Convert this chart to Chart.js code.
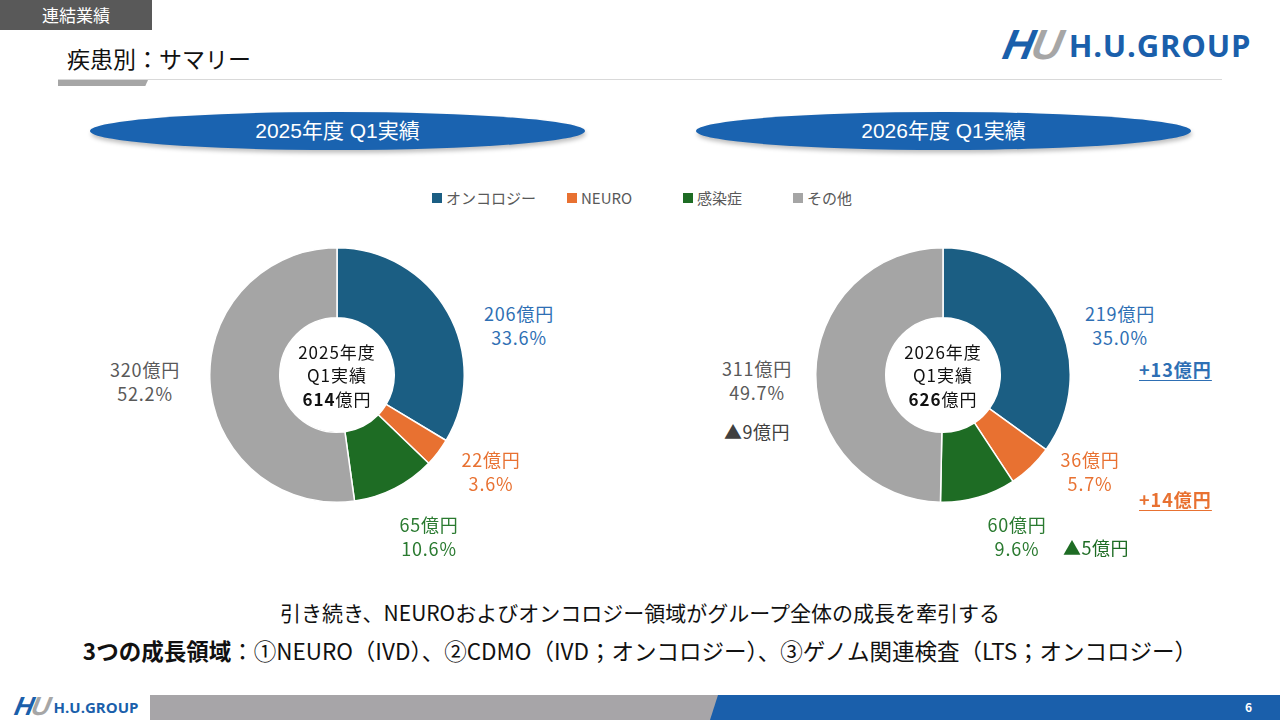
<!DOCTYPE html>
<html lang="ja">
<head>
<meta charset="UTF-8">
<title>疾患別：サマリー</title>
<script src="https://cdn.jsdelivr.net/npm/chart.js"></script>
<style>
    html, body { margin: 0; padding: 0; }
    body {
        width: 1280px; height: 720px; position: relative; overflow: hidden;
        background: #fff; font-family: "Noto Sans CJK JP", "Noto Sans", sans-serif; color: #404040;
    }
    .abs { position: absolute; }
    .tab { left: 0; top: 0; width: 152px; height: 30px; background: #595959; color: #fff;
           font-size: 17px; line-height: 30px; text-align: center; }
    .title { left: 67px; top: 43px; font-size: 23px; color: #111; line-height: 30px; }
    .rule { left: 58px; top: 79px; width: 1164px; height: 1px; background: #d9d9d9; }
    .rule2 { left: 58px; top: 80px; width: 90px; height: 6px; background: #a6a6a6;
             clip-path: polygon(0 0, 100% 0, 97% 100%, 0 100%); }
    .logo { display: flex; align-items: center; }
    .logo .mark { font-family: "Liberation Sans", Arial, sans-serif; font-weight: bold; font-style: italic;
                  letter-spacing: -2px; transform: skewX(-12deg); }
    .logo .mark .h { color: #1a5fab; }
    .logo .mark .u { color: #a6a6a6; }
    .logo .word { font-family: "Open Sans", "Liberation Sans", sans-serif; font-weight: bold; color: #1a5fab; }
    .pill { width: 495px; height: 38px; border-radius: 50%; background: #1a63b0; color: #fff;
            font-family: "Liberation Sans", Arial, "Noto Sans CJK JP", sans-serif; font-size: 21px;
            line-height: 38px; text-align: center; box-shadow: 1px 3px 4px rgba(0,0,0,0.25); }
    .legend { top: 189px; font-size: 15px; color: #595959; display: flex; align-items: center; line-height: 18px; }
    .legend i { display: inline-block; width: 10px; height: 10px; margin-right: 4px; }
    .chartbox { width: 256px; height: 256px; }
    .lbl { font-size: 18px; letter-spacing: 0.8px; line-height: 24px; text-align: center; white-space: nowrap;
           transform: translate(-50%, -12px); }
    .center { font-size: 17px; letter-spacing: 1px; line-height: 24px; text-align: center; color: #111;
              transform: translate(-50%, -12px); white-space: nowrap; }
    .delta { font-size: 18px; letter-spacing: 1px; font-weight: bold; text-decoration: underline;
             text-underline-offset: 3px; white-space: nowrap; transform: translateY(-12px); }
    .tri { font-size: 18px; letter-spacing: 0.5px; white-space: nowrap; transform: translateY(-12px); }
    .msg { left: 0; width: 1280px; text-align: center; color: #111; white-space: nowrap; }
    .footgray { left: 150px; top: 695px; width: 570px; height: 25px; background: #a7a5a8;
                clip-path: polygon(0 0, 100% 0, 98.6% 100%, 0 100%); }
    .footblue { left: 710px; top: 695px; width: 570px; height: 25px; background: #1a5fab;
                clip-path: polygon(8px 0, 100% 0, 100% 100%, 0 100%); }
    .page { left: 1245px; top: 698px; color: #fff; font-size: 12px; font-weight: bold; }
</style>
</head>
<body>

<div class="abs tab">連結業績</div>
<div class="abs title">疾患別：サマリー</div>
<div class="abs rule"></div>
<div class="abs rule2"></div>
<div class="abs logo" style="left:1004px; top:21px;">
    <span class="mark" style="font-size:42px;"><span class="h">H</span><span class="u">U</span></span>
    <span class="word" style="font-size:31px; margin-left:8px; letter-spacing:0.8px;">H.U.GROUP</span>
</div>

<div class="abs pill" style="left:90px; top:112px;" id="pill0"></div>
<div class="abs pill" style="left:696px; top:112px;" id="pill1"></div>

<div id="legend"></div>

<div class="abs chartbox" style="left:209px; top:247px;"><canvas id="chart0"></canvas></div>
<div class="abs chartbox" style="left:815px; top:247px;"><canvas id="chart1"></canvas></div>

<div id="labels"></div>

<div class="abs msg" style="top:597px; font-size:21px;" id="msg1"></div>
<div class="abs msg" style="top:634px; font-size:22.5px;" id="msg2"></div>

<div class="abs logo" style="left:15px; top:691px;">
    <span class="mark" style="font-size:26px;"><span class="h">H</span><span class="u">U</span></span>
    <span class="word" style="font-size:15px; margin-left:5px;">H.U.GROUP</span>
</div>
<div class="abs footgray"></div>
<div class="abs footblue"></div>
<div class="abs page">6</div>

<script>
    // categories and colours
    const categories = ['オンコロジー', 'NEURO', '感染症', 'その他'];
    const sliceColors = ['#1b5e83', '#e87131', '#1e6c24', '#a5a5a5'];
    const labelColors = ['#2e6fb4', '#e87131', '#2a7a30', '#595959'];

    // values (億円)
    const periods = ['2025年度 Q1実績', '2026年度 Q1実績'];
    const values2025 = [206, 22, 65, 320];
    const values2026 = [219, 36, 60, 311];
    const shares2025 = ['33.6%', '3.6%', '10.6%', '52.2%'];
    const shares2026 = ['35.0%', '5.7%', '9.6%', '49.7%'];
    const totals = [614, 626];
    const changes = ['+13億円', '+14億円', '▲5億円', '▲9億円'];

    const legendX = [432, 567, 683, 793];

    // label anchor points (center x, center y of first line)
    const labelPos = [
        [[519, 313], [491, 459], [429, 524], [145, 369]],
        [[1120, 313], [1090, 459], [1017, 524], [757, 368]]
    ];
    const changePos = [[1139, 368], [1139, 498], [1063, 546], [724, 430]];
    const centerX = [337, 943];
    const centerLineY = [352, 375, 399];

    document.getElementById('pill0').textContent = periods[0];
    document.getElementById('pill1').textContent = periods[1];

    // legend
    const legend = document.getElementById('legend');
    categories.forEach((c, i) => {
        const d = document.createElement('div');
        d.className = 'abs legend';
        d.style.left = legendX[i] + 'px';
        d.innerHTML = `<i style="background:${sliceColors[i]}"></i>${c}`;
        legend.appendChild(d);
    });

    // charts
    const allValues = [values2025, values2026];
    const allShares = [shares2025, shares2026];
    allValues.forEach((vals, k) => {
        new Chart(document.getElementById('chart' + k), {
            type: 'doughnut',
            data: {
                labels: categories,
                datasets: [{
                    data: vals,
                    backgroundColor: sliceColors,
                    borderColor: '#ffffff',
                    borderWidth: 1.5
                }]
            },
            options: {
                responsive: true,
                maintainAspectRatio: false,
                animation: false,
                cutout: '45%',
                layout: { padding: 0 },
                plugins: {
                    legend: { display: false },
                    tooltip: { enabled: false }
                }
            }
        });
    });

    // data labels
    const labels = document.getElementById('labels');
    allValues.forEach((vals, k) => {
        vals.forEach((v, i) => {
            const d = document.createElement('div');
            d.className = 'abs lbl';
            d.style.left = labelPos[k][i][0] + 'px';
            d.style.top = labelPos[k][i][1] + 'px';
            d.style.color = labelColors[i];
            d.innerHTML = `${v}億円<br>${allShares[k][i]}`;
            labels.appendChild(d);
        });
        const p = periods[k].split(' ');
        const lines = [p[0], p[1], `<b>${totals[k]}</b>億円`];
        lines.forEach((t, j) => {
            const c = document.createElement('div');
            c.className = 'abs center';
            c.style.left = centerX[k] + 'px';
            c.style.top = centerLineY[j] + 'px';
            c.innerHTML = t;
            labels.appendChild(c);
        });
    });
    changes.forEach((t, i) => {
        const d = document.createElement('div');
        d.className = 'abs ' + (i < 2 ? 'delta' : 'tri');
        d.style.left = changePos[i][0] + 'px';
        d.style.top = changePos[i][1] + 'px';
        d.style.color = i === 3 ? '#404040' : (i === 2 ? '#1e6c24' : labelColors[i]);
        d.textContent = t;
        labels.appendChild(d);
    });

    document.getElementById('msg1').textContent = '引き続き、NEUROおよびオンコロジー領域がグループ全体の成長を牽引する';
    document.getElementById('msg2').innerHTML = '<b>3つの成長領域</b>：①NEURO（IVD）、②CDMO（IVD；オンコロジー）、③ゲノム関連検査（LTS；オンコロジー）';
</script>
</body>
</html>
